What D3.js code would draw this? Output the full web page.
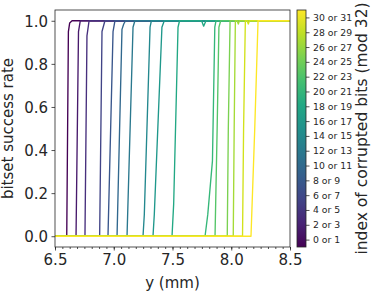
<!DOCTYPE html>
<html><head><meta charset="utf-8">
<script src="https://cdn.jsdelivr.net/npm/d3@7"></script>
<style>body{margin:0;background:#fff}svg{display:block}text{font-family:"DejaVu Sans",sans-serif;fill:#262626}</style>
</head><body><svg id="c" width="371" height="291"></svg>
<script>
// One curve per colour bin (index of corrupted bits, mod 32, in pairs)
const binLabels = ["0 or 1","2 or 3","4 or 5","6 or 7","8 or 9","10 or 11","12 or 13","14 or 15",
  "16 or 17","18 or 19","20 or 21","22 or 23","24 or 25","26 or 27","28 or 29","30 or 31"];
// Each curve: [y (mm), bitset success rate] points
const curve0  = [[6.5,0],[6.600,0],[6.614,0.95],[6.625,0.99],[6.645,1],[8.5,1]];
const curve1  = [[6.5,0],[6.679,0],[6.700,0.95],[6.715,1],[8.5,1]];
const curve2  = [[6.5,0],[6.755,0],[6.772,0.93],[6.790,1],[8.5,1]];
const curve3  = [[6.5,0],[6.880,0],[6.900,0.95],[6.925,1],[8.5,1]];
const curve4  = [[6.5,0],[6.951,0],[6.994,0.95],[7.010,1],[8.5,1]];
const curve5  = [[6.5,0],[7.028,0],[7.070,0.96],[7.085,0.985],[7.100,1],[8.5,1]];
const curve6  = [[6.5,0],[7.113,0],[7.164,0.97],[7.180,1],[8.5,1]];
const curve7  = [[6.5,0],[7.249,0],[7.260,0.1],[7.309,0.97],[7.320,1],[8.5,1]];
const curve8  = [[6.5,0],[7.334,0],[7.345,0.1],[7.410,0.97],[7.430,1],[8.5,1]];
const curve9  = [[6.5,0],[7.496,0],[7.510,0.15],[7.547,0.97],[7.560,1],[7.748,1],[7.765,0.975],[7.785,1],[8.5,1]];
const curve10 = [[6.5,0],[7.777,0],[7.800,0.1],[7.840,0.35],[7.860,0.97],[7.870,1],[8.5,1]];
const curve11 = [[6.5,0],[7.862,0],[7.880,0.5],[7.895,0.97],[7.910,1],[8.5,1]];
const curve12 = [[6.5,0],[7.966,0],[7.975,0.5],[7.990,1],[8.5,1]];
const curve13 = [[6.5,0],[8.017,0],[8.025,0.5],[8.035,1],[8.050,1],[8.060,0.985],[8.070,1],[8.5,1]];
const curve14 = [[6.5,0],[8.096,0],[8.105,0.5],[8.120,1],[8.135,1],[8.145,0.985],[8.155,1],[8.5,1]];
const curve15 = [[6.5,0],[8.168,0],[8.200,0.5],[8.228,1],[8.5,1]];
const curves = [curve0,curve1,curve2,curve3,curve4,curve5,curve6,curve7,curve8,curve9,curve10,curve11,curve12,curve13,curve14,curve15];
const xTicks = [6.5,7.0,7.5,8.0,8.5];
const yTicks = [0,0.2,0.4,0.6,0.8,1.0];

const svg = d3.select("#c");
const L=55,T=10,R=290,B=247;
const x = d3.scaleLinear().domain([6.5,8.5]).range([L,R]);
const y = d3.scaleLinear().domain([-0.05,1.05]).range([B,T]);
const n = curves.length;
const col = i => d3.interpolateViridis(i/(n-1));

const line = d3.line().x(d=>x(d[0])).y(d=>y(d[1]));
svg.append("g").selectAll("path").data(curves).join("path")
  .attr("d",line).attr("fill","none").attr("stroke",(d,i)=>col(i)).attr("stroke-width",1.35)
  .attr("stroke-linejoin","round");

// axes
const xa = svg.append("g").attr("transform",`translate(0,${B})`)
  .call(d3.axisBottom(x).tickValues(xTicks).tickFormat(d3.format(".1f")).tickSize(3.5).tickPadding(3.5));
const xm = svg.append("g").attr("transform",`translate(0,${B})`)
  .call(d3.axisBottom(x).tickValues(d3.range(0,33).map(i=>6.5+i*0.0625)).tickFormat("").tickSize(2));
const ya = svg.append("g").attr("transform",`translate(${L},0)`)
  .call(d3.axisLeft(y).tickValues(yTicks).tickFormat(d3.format(".1f")).tickSize(3.5).tickPadding(3.5));
[xa,xm,ya].forEach(g=>{g.select(".domain").remove();g.selectAll("line").attr("stroke","#262626").attr("stroke-width",0.8);
  g.selectAll("text").attr("font-size",15).attr("font-family","DejaVu Sans").attr("fill","#262626");});
ya.selectAll("text").attr("dy","0.36em");
svg.append("rect").attr("x",L).attr("y",T).attr("width",R-L).attr("height",B-T)
  .attr("fill","none").attr("stroke","#262626").attr("stroke-width",0.8);

svg.append("text").attr("transform",`translate(13,${(T+B)/2}) rotate(-90)`).attr("text-anchor","middle")
  .attr("font-size",15).text("bitset success rate");
svg.append("text").attr("x",(L+R)/2).attr("y",288).attr("text-anchor","middle").attr("font-size",15).text("y (mm)");

// colorbar
const cbL=297, cbR=306;
const defs = svg.append("defs");
const grad = defs.append("linearGradient").attr("id","vg").attr("x1",0).attr("y1",1).attr("x2",0).attr("y2",0);
d3.range(0,11).forEach(k=>grad.append("stop").attr("offset",k/10).attr("stop-color",d3.interpolateViridis(k/10)));
svg.append("rect").attr("x",cbL).attr("y",T).attr("width",cbR-cbL).attr("height",B-T).attr("fill","url(#vg)")
  .attr("stroke","#262626").attr("stroke-width",0.8);
const cy = d3.scaleLinear().domain([-0.5,n-0.5]).range([B,T]);
const ca = svg.append("g").attr("transform",`translate(${cbR},0)`)
  .call(d3.axisRight(cy).tickValues(d3.range(n)).tickFormat(i=>binLabels[i]).tickSize(3.5).tickPadding(3.5));
ca.select(".domain").remove();
ca.selectAll("line").attr("stroke","#262626").attr("stroke-width",0.8);
ca.selectAll("text").attr("font-size",9.3).attr("font-family","DejaVu Sans").attr("fill","#262626");
svg.append("text").attr("transform",`translate(367,${(T+B)/2}) rotate(-90)`).attr("text-anchor","middle")
  .attr("font-size",15.5).text("index of corrupted bits (mod 32)");
</script></body></html>
